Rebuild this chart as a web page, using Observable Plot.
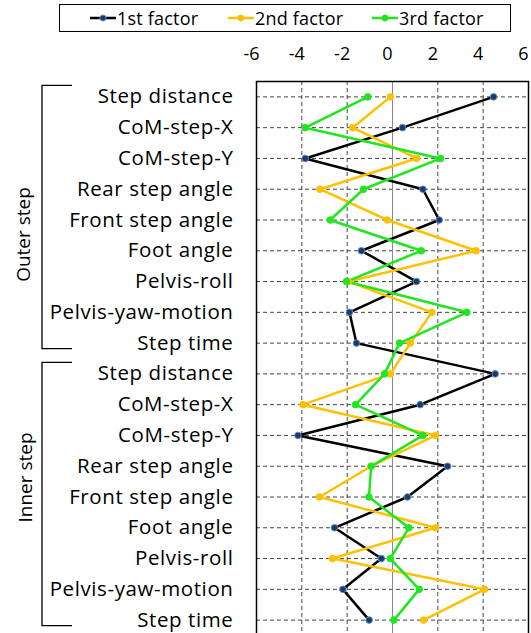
<!DOCTYPE html>
<html>
<head>
<meta charset="utf-8">
<script src="https://cdn.jsdelivr.net/npm/d3@7"></script>
<script src="https://cdn.jsdelivr.net/npm/@observablehq/plot@0.6"></script>
<style>
  html, body { margin: 0; padding: 0; background: #fff; overflow: hidden; }
  body { font-family: "Open Sans", Lato, sans-serif; width: 531px; height: 633px; position: relative; }
  #legend { position: relative; height: 36px; }
  #legend .box { position: absolute; left: 59px; top: 4px; width: 452px; height: 28px; border: 1px solid #000; box-sizing: border-box; }
  #legend .item { position: absolute; top: 4px; height: 28px; display: flex; align-items: center; font-size: 18px; letter-spacing: 0.2px; color: #000; white-space: nowrap; }
  #legend svg { display: block; margin-right: 1px; }
  #chart svg { display: block; overflow: visible; }
  #chart g[aria-label="y-axis tick label"] text { letter-spacing: 0.6px; }
</style>
</head>
<body>
<div id="legend"><div class="box"></div></div>
<div id="chart"></div>
<script>
const categories = ["Step distance", "CoM-step-X", "CoM-step-Y", "Rear step angle", "Front step angle", "Foot angle", "Pelvis-roll", "Pelvis-yaw-motion", "Step time"];
const groups = ["Outer step", "Inner step"];
const factorNames = ["1st factor", "2nd factor", "3rd factor"];
const factorColors = ["#000000", "#ffc000", "#1fe61f"];
const xTicks = [-6, -4, -2, 0, 2, 4, 6];
// values: Outer step (9) then Inner step (9)
const factor1 = [4.46, 0.44, -3.85, 1.34, 2.06, -1.37, 1.06, -1.90, -1.59, 4.53, 1.22, -4.17, 2.43, 0.66, -2.56, -0.49, -2.19, -1.03];
const factor2 = [-0.09, -1.76, 1.06, -3.20, -0.23, 3.69, -1.95, 1.74, 0.79, -0.09, -3.95, 1.90, -0.94, -3.22, 1.90, -2.65, 4.06, 1.37];
const factor3 = [-1.09, -3.85, 2.12, -1.28, -2.75, 1.27, -2.03, 3.28, 0.31, -0.35, -1.63, 1.34, -0.94, -1.04, 0.72, -0.10, 1.18, 0.06];

const keys = [];
groups.forEach(g => categories.forEach(c => keys.push(g + "|" + c)));
const series = [factor1, factor2, factor3];
const data = [];
series.forEach((vals, i) => vals.forEach((v, j) => data.push({factor: factorNames[i], key: keys[j], value: v})));

// Legend
const legend = document.getElementById("legend");
const legendX = [90, 228, 372];
factorNames.forEach((name, i) => {
  const item = document.createElement("div");
  item.className = "item";
  item.style.left = legendX[i] + "px";
  const ns = "http://www.w3.org/2000/svg";
  const sw = document.createElementNS(ns, "svg");
  sw.setAttribute("width", 26); sw.setAttribute("height", 10);
  const ln = document.createElementNS(ns, "line");
  ln.setAttribute("x1", 0); ln.setAttribute("x2", 26); ln.setAttribute("y1", 5); ln.setAttribute("y2", 5);
  ln.setAttribute("stroke", factorColors[i]); ln.setAttribute("stroke-width", 2.5);
  const c = document.createElementNS(ns, "circle");
  c.setAttribute("cx", 13); c.setAttribute("cy", 5); c.setAttribute("r", 3);
  c.setAttribute("fill", i === 0 ? "#1f3864" : factorColors[i]);
  c.setAttribute("stroke", i === 0 ? "#5b8bd0" : factorColors[i]);
  c.setAttribute("stroke-width", 1);
  sw.appendChild(ln); sw.appendChild(c);
  item.appendChild(sw);
  const t = document.createElement("span"); t.textContent = name;
  item.appendChild(t);
  legend.appendChild(item);
});

const plot = Plot.plot({
  width: 531,
  height: 604,
  marginTop: 45,
  marginBottom: 5,
  marginLeft: 256,
  marginRight: 3,
  style: {fontFamily: "'Open Sans', Lato, sans-serif", fontSize: "19px", color: "#000", background: "#fff"},
  x: {domain: [-6, 6], label: null},
  y: {type: "point", domain: keys, padding: 0.5, round: false, label: null},
  marks: [
    Plot.gridY(keys, {stroke: "#444", strokeOpacity: 1, strokeDasharray: "4,3", strokeWidth: 1}),
    Plot.gridX([-4, -2, 2, 4], {stroke: "#444", strokeOpacity: 1, strokeDasharray: "4,3", strokeWidth: 1}),
    Plot.ruleX([0], {stroke: "#8a8a8a", strokeWidth: 1}),
    Plot.axisX({anchor: "top", ticks: xTicks, tickSize: 0, tickPadding: 22, dx: -5, fontSize: 18, label: null,
      tickFormat: d => String(d)}),
    Plot.axisY({anchor: "left", ticks: keys, tickSize: 0, tickPadding: 23, fontSize: 20.5, label: null,
      tickFormat: d => d.split("|")[1]}),
    Plot.line(data, {x: "value", y: "key", z: "factor", stroke: "factor", strokeWidth: 2.5}),
    Plot.dot(data, {x: "value", y: "key", r: 3.3,
      fill: d => d.factor === factorNames[0] ? "#1f3864" : factorColors[factorNames.indexOf(d.factor)],
      stroke: d => d.factor === factorNames[0] ? "#5b8bd0" : factorColors[factorNames.indexOf(d.factor)],
      strokeWidth: 1}),
    Plot.frame({stroke: "#000", strokeWidth: 1.5})
  ],
  color: {domain: factorNames, range: factorColors}
});
document.getElementById("chart").appendChild(plot);

// group brackets and labels, positioned from the y scale
const ys = plot.scale("y");
const svg = d3.select(plot);
const g = svg.append("g").attr("fill", "none").attr("stroke", "#000").attr("stroke-width", 1.3);
const labelOffsets = [15, -19];
groups.forEach((grp, gi) => {
  const first = ys.apply(grp + "|" + categories[0]);
  const last = ys.apply(grp + "|" + categories[categories.length - 1]);
  g.append("path").attr("d", `M72,${first - 11}H42V${last + 6}H72`);
  const yc = (first + last) / 2 + labelOffsets[gi];
  svg.append("text")
    .attr("transform", `translate(${gi === 0 ? 23 : 25},${yc}) rotate(-90)`)
    .attr("text-anchor", "middle").attr("dominant-baseline", "central")
    .attr("font-size", 19).attr("fill", "#000")
    .text(grp);
});
</script>
</body>
</html>
